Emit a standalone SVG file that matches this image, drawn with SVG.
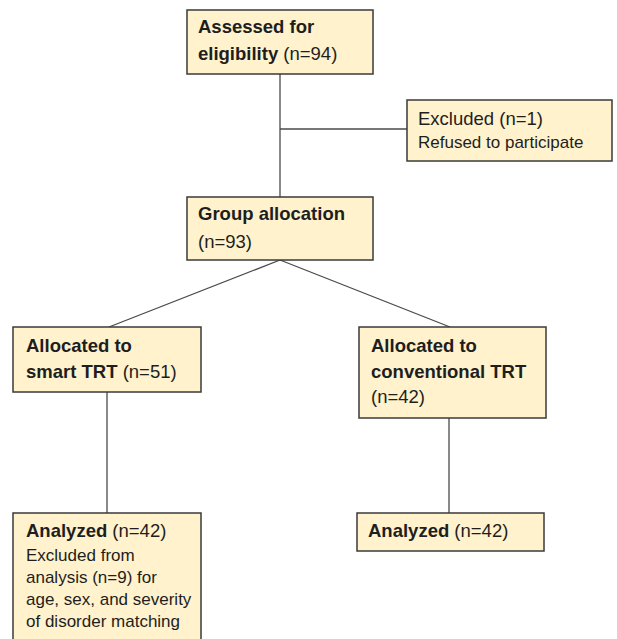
<svg xmlns="http://www.w3.org/2000/svg" width="617" height="639" viewBox="0 0 617 639">
<style>
.box{fill:#FFF2CC;stroke:#3a3a3a;stroke-width:1.5}
.conn{stroke:#4a4a4a;stroke-width:1.3;fill:none}
text{font-family:"Liberation Sans",Arial,sans-serif;fill:#1e1e1e}
.m{font-size:18.5px}
.b{font-weight:bold}
.s{font-size:17px}
</style>
<rect width="617" height="639" fill="#ffffff"/>
<g id="connectors">
<line class="conn" x1="280" y1="74" x2="280" y2="197"/>
<line class="conn" x1="280" y1="129" x2="407" y2="129"/>
<line class="conn" x1="280" y1="260" x2="109" y2="327"/>
<line class="conn" x1="280" y1="260" x2="450" y2="327"/>
<line class="conn" x1="107" y1="392" x2="107" y2="513"/>
<line class="conn" x1="449" y1="418" x2="449" y2="513"/>
</g>
<g id="assessed">
<rect class="box" x="187" y="10" width="186" height="64"/>
<text class="m" x="198" y="33"><tspan class="b">Assessed for</tspan></text>
<text class="m" x="198" y="60"><tspan class="b">eligibility</tspan> (n=94)</text>
</g>
<g id="excluded">
<rect class="box" x="407" y="100" width="205" height="61"/>
<text class="m" x="418" y="125">Excluded (n=1)</text>
<text class="s" x="418" y="148">Refused to participate</text>
</g>
<g id="group">
<rect class="box" x="187" y="197" width="186" height="63"/>
<text class="m b" x="198" y="220">Group allocation</text>
<text class="m" x="198" y="248">(n=93)</text>
</g>
<g id="smart">
<rect class="box" x="13" y="327" width="188" height="65"/>
<text class="m b" x="26" y="352">Allocated to</text>
<text class="m" x="26" y="378"><tspan class="b">smart TRT</tspan> (n=51)</text>
</g>
<g id="conventional">
<rect class="box" x="359" y="327" width="187" height="91"/>
<text class="m b" x="371" y="352">Allocated to</text>
<text class="m b" x="371" y="378">conventional TRT</text>
<text class="m" x="371" y="403">(n=42)</text>
</g>
<g id="analyzed-smart">
<rect class="box" x="13" y="513" width="188" height="140"/>
<text class="m" x="26" y="537"><tspan class="b">Analyzed</tspan> (n=42)</text>
<text class="s" x="26" y="561">Excluded from</text>
<text class="s" x="26" y="583">analysis (n=9) for</text>
<text class="s" x="26" y="605">age, sex, and severity</text>
<text class="s" x="26" y="627">of disorder matching</text>
</g>
<g id="analyzed-conventional">
<rect class="box" x="357" y="513" width="187" height="38"/>
<text class="m" x="368" y="537"><tspan class="b">Analyzed</tspan> (n=42)</text>
</g>
</svg>
